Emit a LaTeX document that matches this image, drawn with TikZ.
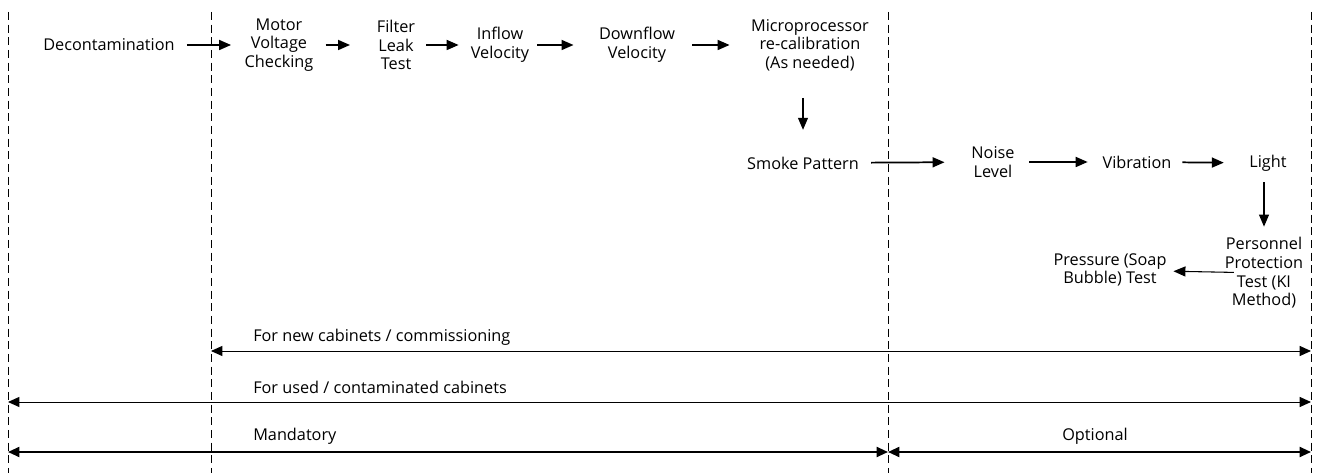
\documentclass[tikz,border=0pt]{standalone}
\usepackage{fontspec}
\setmainfont{Open Sans}
\usetikzlibrary{arrows.meta}

\begin{document}
\begin{tikzpicture}[x=0.75pt, y=-0.75pt,
    stepbox/.style={align=center, inner sep=0pt, font=\fontsize{12.2}{14}\selectfont},
    spanlabel/.style={inner sep=0pt, font=\fontsize{12.2}{14}\selectfont},
    flow/.style={-{Triangle[length=9pt, width=7.5pt]}, line width=1.3pt},
    thinflow/.style={flow, line width=0.8pt},
    span/.style={{Triangle[length=8.5pt, width=7.5pt]}-{Triangle[length=8.5pt, width=7.5pt]}, line width=0.7pt},
    guide/.style={dash pattern=on 6pt off 3.5pt, line width=0.5pt}]
    \useasboundingbox (0,0) rectangle (1317,473);
    % dashed phase limits
    \foreach \n/\x in {0/8, 1/211, 2/888, 3/1311}{
        \coordinate (lim\n) at (\x,12);
        \draw[guide] (lim\n) -- (\x,473);
    }
    % test steps
    \node[stepbox] (decon) at (109,45) {Decontamination};
    \node[stepbox] (motor) at (279,45) {Motor\\Voltage\\Checking};
    \node[stepbox] (filter) at (396,45) {Filter\\Leak\\Test};
    \node[stepbox] (inflow) at (500,45) {Inflow\\Velocity};
    \node[stepbox] (downflow) at (637,45) {Downflow\\Velocity};
    \node[stepbox] (micro) at (810,45) {Microprocessor\\re-calibration\\(As needed)};
    \node[stepbox] (smoke) at (803,163) {Smoke Pattern};
    \node[stepbox] (noise) at (993,162) {Noise\\Level};
    \node[stepbox] (vibration) at (1137,162) {Vibration};
    \node[stepbox] (light) at (1268,163) {Light};
    \node[stepbox] (personnel) at (1264,273) {Personnel\\Protection\\Test (KI\\Method)};
    \node[stepbox] (pressure) at (1110,270) {Pressure (Soap\\Bubble) Test};
    % sequence
    \draw[flow, shorten <=9pt, shorten >=10pt] (decon) -- (motor);
    \draw[flow, shorten <=9pt, shorten >=20pt] (motor) -- (filter);
    \draw[flow, shorten <=8pt, shorten >=9pt] (filter) -- (inflow);
    \draw[flow, shorten <=6pt, shorten >=19pt] (inflow) -- (downflow);
    \draw[flow, shorten <=13pt, shorten >=16pt] (downflow) -- (micro);
    \draw[thinflow, shorten <=20pt, shorten >=20pt] (micro.south -| smoke) -- (smoke);
    \draw[flow, shorten <=9pt, shorten >=20pt] (smoke) -- (noise);
    \draw[flow, shorten <=11pt, shorten >=11pt] (noise) -- (vibration);
    \draw[flow, shorten <=8pt, shorten >=19pt] (vibration) -- (light);
    \draw[thinflow, shorten <=8pt, shorten >=8pt] (light.south -| personnel) -- (personnel);
    \draw[thinflow, shorten <=-7pt, shorten >=5pt] (personnel) -- (pressure);
    % scope of the test programme
    \draw[span] (lim1 |- 0,351) -- (lim3 |- 0,351);
    \node[spanlabel, anchor=west] (newcab) at (253,337) {For new cabinets / commissioning};
    \draw[span] (lim0 |- 0,402) -- (lim3 |- 0,402);
    \node[spanlabel, anchor=west] (usedcab) at (253,387) {For used / contaminated cabinets};
    \draw[span, line width=1.4pt] (lim0 |- 0,452) -- (lim2 |- 0,452);
    \node[spanlabel, anchor=west] (mandatory) at (253,436) {Mandatory};
    \draw[span, line width=1.4pt] (lim2 |- 0,452) -- (lim3 |- 0,452);
    \node[spanlabel] (optional) at (1095,436) {Optional};
\end{tikzpicture}
\end{document}
